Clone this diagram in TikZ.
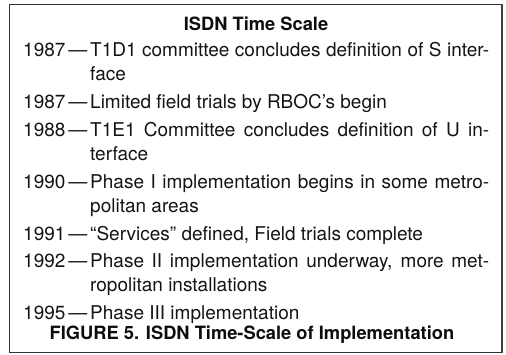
\documentclass[tikz,border=0pt]{standalone}
\usepackage{fontspec}
\setmainfont{TeX Gyre Heros}
\begin{document}
\begin{tikzpicture}[x=1pt,y=-1pt,
  yr/.style={anchor=base west, inner sep=0pt, font=\fontsize{19}{21}\selectfont, text=black!92},
  txt/.style={anchor=base west, inner sep=0pt, font=\fontsize{19}{21}\selectfont, text=black!92},
  bld/.style={anchor=base, inner sep=0pt, font=\fontsize{18.3}{20}\selectfont\bfseries, text=black!95},
  frame/.style={line width=1pt, draw=black!80}
]
\useasboundingbox (0,0) rectangle (506,355);
\draw[frame] (9.5,4.5) rectangle (501.5,352.5);
\draw[line width=2pt, black!75] (501.5,4) -- (501.5,353);
\node[bld] (title) at (256,31) {ISDN Time Scale};
% entry 1
\node[yr] (y1) at (23,57) {1987\kern3pt—};
\node[txt] (e1a) at (90,57) {\hbox to 399pt{T1D1 committee concludes definition of S inter-}};
\node[txt] (e1b) at (90,81) {face};
% entry 2
\node[yr] (y2) at (23,108.8) {1987\kern3pt—};
\node[txt] (e2a) at (90,108.8) {Limited field trials by RBOC’s begin};
% entry 3
\node[yr] (y3) at (23,136.6) {1988\kern3pt—};
\node[txt] (e3a) at (90,136.6) {\hbox to 399pt{T1E1 Committee concludes definition of U in-}};
\node[txt] (e3b) at (90,160.6) {terface};
% entry 4
\node[yr] (y4) at (23,188.4) {1990\kern3pt—};
\node[txt] (e4a) at (90,188.4) {\hbox to 399pt{Phase I implementation begins in some metro-}};
\node[txt] (e4b) at (90,212.4) {politan areas};
% entry 5
\node[yr] (y5) at (23,240.2) {1991\kern3pt—};
\node[txt] (e5a) at (90,240.2) {``Services'' defined, Field trials complete};
% entry 6
\node[yr] (y6) at (23,268) {1992\kern3pt—};
\node[txt] (e6a) at (90,268) {\hbox to 399pt{Phase II implementation underway, more met-}};
\node[txt] (e6b) at (90,292) {ropolitan installations};
% entry 7
\node[yr] (y7) at (23,319.8) {1995\kern3pt—};
\node[txt] (e7a) at (90,319.8) {Phase III implementation};
\node[bld] (cap) at (252,339) {FIGURE 5. ISDN Time-Scale of Implementation};
\end{tikzpicture}
\end{document}
